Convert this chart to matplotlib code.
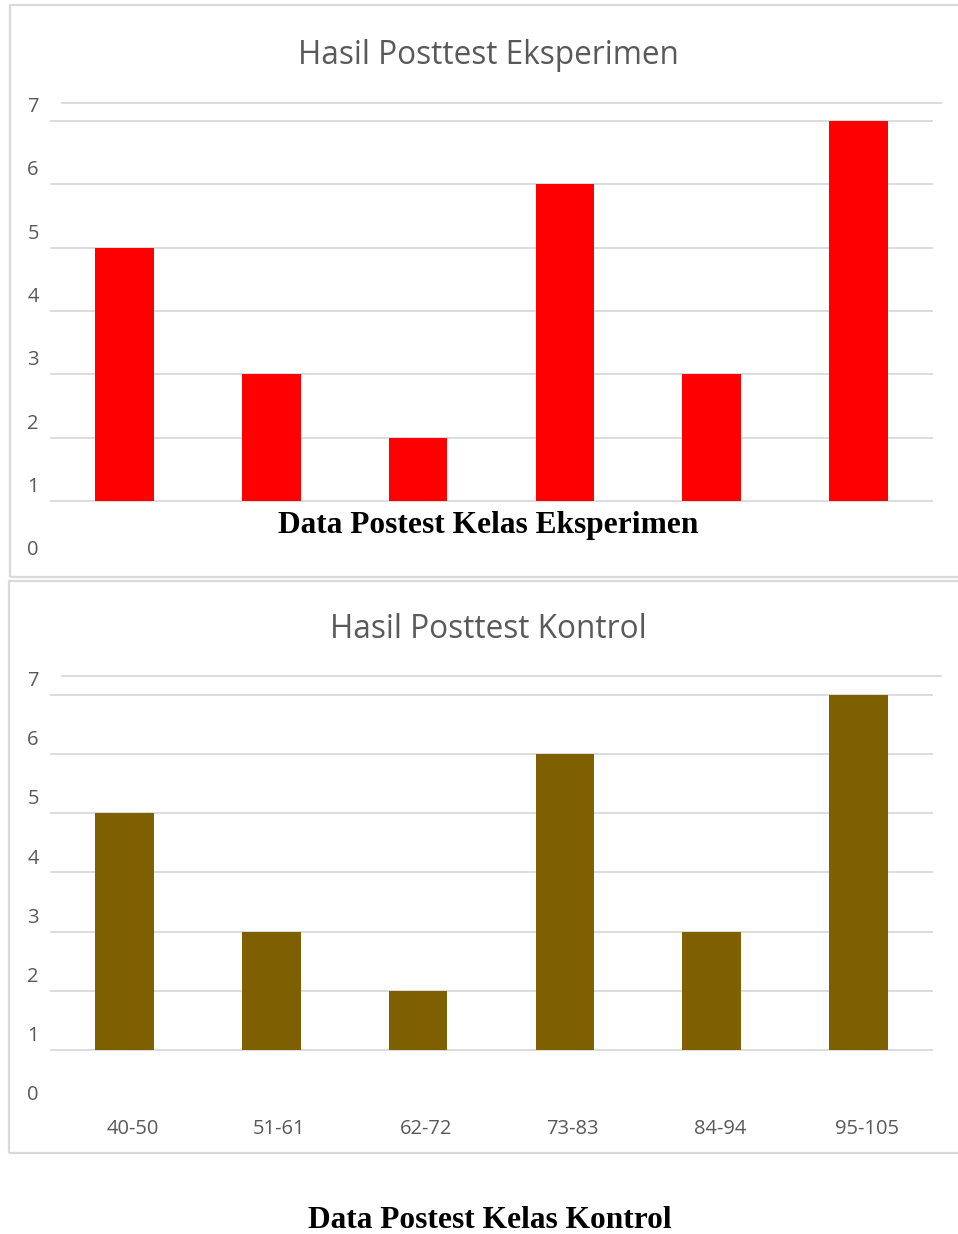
import matplotlib
matplotlib.use("Agg")
import matplotlib.pyplot as plt
import matplotlib.transforms as mtransforms
from matplotlib.patches import Rectangle
from matplotlib.lines import Line2D

categories = ["40-50", "51-61", "62-72", "73-83", "84-94", "95-105"]
eksperimen = [5, 3, 2, 6, 3, 7]
kontrol = [5, 3, 2, 6, 3, 7]
ytick_values = [0, 1, 2, 3, 4, 5, 6, 7]

W, H = 958, 1234
DPI = 100
fig = plt.figure(figsize=(W / DPI, H / DPI), dpi=DPI)
fig.patch.set_facecolor("white")

GRID = "#D9D9D9"
TXT = "#595959"
SANS = "Open Sans"
SERIF = "Liberation Serif"


def px_rect(x0, y_top, x1, y_bot):
    return [x0 / W, 1 - y_bot / H, (x1 - x0) / W, (y_bot - y_top) / H]


def frame(x0, y0, x1, y1):
    fig.add_artist(Rectangle((x0 / W, 1 - y1 / H), (x1 - x0) / W, (y1 - y0) / H,
                             transform=fig.transFigure, fill=False,
                             edgecolor=GRID, linewidth=1.6))


def hline(y, x0, x1):
    fig.add_artist(Line2D([x0 / W, x1 / W], [1 - y / H, 1 - y / H],
                          transform=fig.transFigure, color=GRID, linewidth=1.3))


def panel(values, color, y7, y1, title, title_y, extra_y, show_x):
    ax = fig.add_axes(px_rect(51, y7, 932, y1))
    ax.set_xlim(-0.5, len(categories) - 0.5)
    ax.set_ylim(1, 7)
    for s in ax.spines.values():
        s.set_visible(False)
    ax.set_xticks([])
    ax.set_yticks([])
    for v in range(1, 8):
        ax.axhline(v, color=GRID, linewidth=1.3, zorder=0, clip_on=False)
    ax.bar(range(len(categories)), values, width=0.4, color=color, zorder=2)
    # shifted value labels
    trans = mtransforms.blended_transform_factory(ax.transAxes, ax.transData)
    trans = mtransforms.offset_copy(trans, fig=fig, x=0, y=14, units="dots")
    for v in ytick_values:
        ax.text(-0.0204, v, str(v), transform=trans, ha="center", va="center",
                fontsize=14.5, color=TXT, family=SANS, clip_on=False)
    if show_x:
        ctrans = mtransforms.offset_copy(ax.transData, fig=fig, x=8, y=-2, units="dots")
        for i, c in enumerate(categories):
            ax.text(i, 1 - (1127 - y1) / ((y1 - y7) / 6), c, transform=ctrans,
                    ha="center", va="center", fontsize=14.5, color=TXT, family=SANS)
    hline(extra_y, 62, 941)
    fig.text(488 / W, 1 - title_y / H, title, ha="center", va="center",
             fontsize=22.7, color=TXT, family=SANS)
    return ax


frame(10, 5, 1000, 577)
frame(9, 581, 1000, 1153)

panel(eksperimen, "#FF0000", 121, 501, "Hasil Posttest Eksperimen", 56, 103, False)
panel(kontrol, "#7F6000", 695, 1050, "Hasil Posttest Kontrol", 629, 676, True)

fig.text(488 / W, 1 - 526 / H, "Data Postest Kelas Eksperimen", ha="center",
         va="center", fontsize=22.6, fontweight="bold", family=SERIF, color="black")
fig.text(490 / W, 1 - 1221 / H, "Data Postest Kelas Kontrol", ha="center",
         va="center", fontsize=22.6, fontweight="bold", family=SERIF, color="black")

fig.savefig("out.png", dpi=DPI, facecolor="white")
